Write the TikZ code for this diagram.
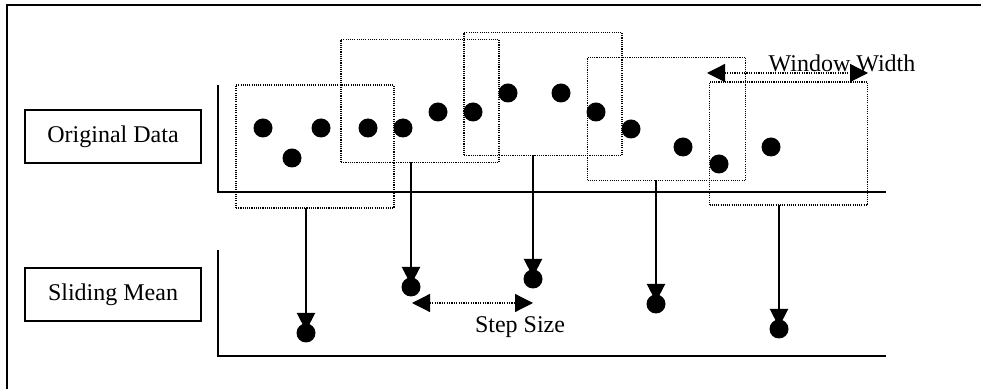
\documentclass[tikz,border=0pt]{standalone}
\usepackage{fontspec}
\setmainfont{Liberation Serif}
\usetikzlibrary{arrows.meta}
\begin{document}
\begin{tikzpicture}[x=0.5pt,y=-0.5pt,
  labelbox/.style={draw,line width=1pt,minimum width=88pt,minimum height=26.5pt,inner sep=0pt,font=\fontsize{12}{14}\selectfont},
  window/.style={draw,line width=0.55pt,dash pattern=on 0.55pt off 0.55pt,minimum width=79pt,minimum height=61.5pt,inner sep=0pt,outer sep=0pt},
  datapt/.style={circle,fill=black,minimum size=9.5pt,inner sep=0pt,outer sep=0pt},
  axisline/.style={line width=1pt},
  drop/.style={line width=1pt,-{Triangle[length=9pt,width=9pt]},shorten >=1pt},
  span/.style={line width=0.6pt,dash pattern=on 0.6pt off 0.6pt,{Triangle[length=9pt,width=9pt]}-{Triangle[length=9pt,width=9pt]}},
  lbl/.style={font=\fontsize{12}{14}\selectfont,inner sep=0pt}]
\useasboundingbox (0,0) rectangle (981,389);
% outer frame (cut by the page at right and bottom)
\draw[line width=1pt] (7,400) -- (7,5) -- (995,5);

% row labels
\node[labelbox] (orig) at (113,136.5) {Original Data};
\node[labelbox] (slide) at (113,294.5) {Sliding Mean};

% axes
\draw[axisline] (218,85) -- (218,192) -- (886,192);
\draw[axisline] (218,250) -- (218,356) -- (886,356);

% windows
\node[window] (wA) at (315,146.5) {};
\node[window] (wB) at (420,101) {};
\node[window] (wC) at (543,94) {};
\node[window] (wD) at (666.5,119) {};
\node[window] (wE) at (788.5,143.5) {};

% original data points
\node[datapt] (d1) at (263,128) {};
\node[datapt] (d2) at (292,158) {};
\node[datapt] (d3) at (321,128) {};
\node[datapt] (d4) at (368,128) {};
\node[datapt] (d5) at (403,128) {};
\node[datapt] (d6) at (438,112) {};
\node[datapt] (d7) at (473,112) {};
\node[datapt] (d8) at (508,93) {};
\node[datapt] (d9) at (561,93) {};
\node[datapt] (d10) at (596,112) {};
\node[datapt] (d11) at (631,129) {};
\node[datapt] (d12) at (683,147) {};
\node[datapt] (d13) at (719,164) {};
\node[datapt] (d14) at (771,147) {};

% sliding mean points
\node[datapt] (m1) at (306,333) {};
\node[datapt] (m2) at (411,287) {};
\node[datapt] (m3) at (533,279) {};
\node[datapt] (m4) at (656,304) {};
\node[datapt] (m5) at (779,329) {};

% drops from windows to means
\draw[drop] (m1 |- wA.south) -- (m1.center);
\draw[drop] (m2 |- wB.south) -- (m2.center);
\draw[drop] (m3 |- wC.south) -- (m3.center);
\draw[drop] (m4 |- wD.south) -- (m4.center);
\draw[drop] (m5 |- wE.south) -- (m5.center);

% step size
\coordinate (ssL) at (412,303);
\coordinate (ssR) at (533,303);
\draw[span] (ssL) -- (ssR);
\node[lbl,anchor=base] (sslbl) at (520,333) {Step Size};

% window width
\coordinate (wwL) at (707,73);
\coordinate (wwR) at (868,73);
\draw[span] (wwL) -- (wwR);
\node[lbl,anchor=base] (wwlbl) at (842,72) {Window Width};
\end{tikzpicture}
\end{document}
